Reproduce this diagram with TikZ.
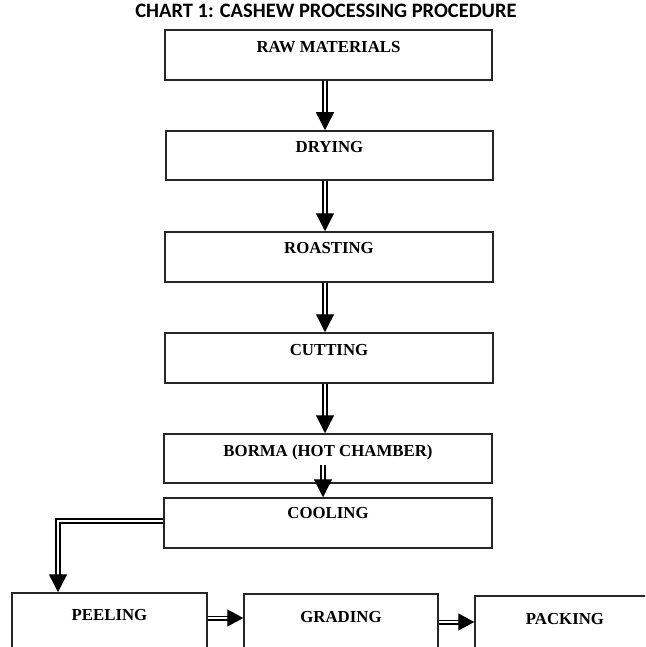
\documentclass[tikz,border=0pt]{standalone}
\usepackage{fontspec}
\setmainfont{Liberation Serif}
\newfontfamily\titlefont{Carlito}
\usetikzlibrary{arrows.meta,calc}
\begin{document}
\begin{tikzpicture}[x=1pt,y=-1pt,
  box/.style={draw=black!85, line width=1.5pt, rectangle, inner sep=0pt},
  lbl/.style={font=\fontsize{16.8}{19}\selectfont\bfseries, inner sep=0pt},
  conn/.style={draw=black, double=white, double distance=2.4pt, line width=1.4pt,
     -{Triangle[length=18pt,width=18pt]}},
  hconn/.style={draw=black, double=white, double distance=2.2pt, line width=1.4pt,
     -{Triangle[length=16pt,width=17pt]}}
]
\useasboundingbox (0,0) rectangle (645,647);
\clip (0,0) rectangle (645,647);

\node[font=\titlefont\fontsize{20.5}{24}\selectfont\bfseries] (title) at (326,11) {CHART 1: CASHEW PROCESSING PROCEDURE};

\node[box, minimum width=327pt, minimum height=50pt, label={[lbl,yshift=8pt]center:RAW MATERIALS}] (raw) at (328.5,55) {};
\node[box, minimum width=327pt, minimum height=49pt, label={[lbl,yshift=8.5pt]center:DRYING}] (dry) at (329.5,155.5) {};
\node[box, minimum width=328pt, minimum height=50pt, label={[lbl,yshift=9pt]center:ROASTING}] (roast) at (329,257) {};
\node[box, minimum width=328pt, minimum height=50pt, label={[lbl,yshift=8pt]center:CUTTING}] (cut) at (329,358) {};
\node[box, minimum width=328pt, minimum height=49pt, label={[lbl,yshift=6.5pt]center:BORMA (HOT CHAMBER)}] (borma) at (328,458.5) {};
\node[box, minimum width=328pt, minimum height=50pt, label={[lbl,yshift=10pt]center:COOLING}] (cool) at (328,523) {};
\node[box, minimum width=195pt, minimum height=70pt, label={[lbl,yshift=13pt]center:PEELING}] (peel) at (109.5,628) {};
\node[box, minimum width=194pt, minimum height=70pt, label={[lbl,yshift=12pt]center:GRADING}] (grad) at (341,629) {};
\node[box, minimum width=180pt, minimum height=70pt, label={[lbl,yshift=12pt]center:PACKING}] (pack) at (565,631) {};

\coordinate (ax) at (325,0);
\coordinate (bx) at (323,0);
\coordinate (lx) at (58,0);
\coordinate (bstart) at (323,465);

\draw[conn] (raw.south -| ax) -- (dry.north -| ax);
\draw[conn] (dry.south -| ax) -- (roast.north -| ax);
\draw[conn] (roast.south -| ax) -- (cut.north -| ax);
\draw[conn] (cut.south -| ax) -- (borma.north -| ax);
\draw[conn] (bstart) -- (cool.north -| bx);
\draw[conn] ([yshift=2pt]cool.west) -- ([yshift=2pt]cool.west -| lx) -- (peel.north -| lx);
\draw[hconn] ([yshift=10pt]peel.east) -- ([yshift=10pt]peel.east -| grad.west);
\draw[hconn] ([yshift=7pt]grad.east) -- ([yshift=7pt]grad.east -| pack.west);
\end{tikzpicture}
\end{document}
